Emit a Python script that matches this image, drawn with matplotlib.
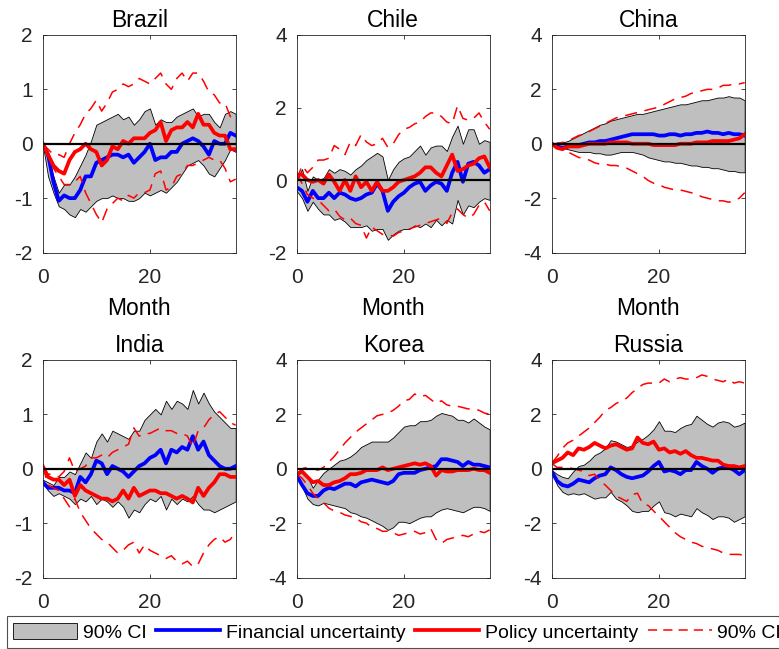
import numpy as np
import matplotlib
matplotlib.use("Agg")
import matplotlib.pyplot as plt
from matplotlib.patches import Patch
from matplotlib.lines import Line2D

plt.rcParams['font.family'] = ['Liberation Sans', 'DejaVu Sans']
plt.rcParams['axes.unicode_minus'] = False

months = np.arange(37)

# impulse responses: fin = financial uncertainty (median, 90% band), pol = policy uncertainty
brazil_fin = [0, -0.2, -0.7, -1.05, -0.95, -1.0, -1.0, -0.85, -0.6, -0.6, -0.35, -0.3, -0.25, -0.2, -0.2, -0.25,
              -0.2, -0.35, -0.25, -0.15, 0.0, -0.3, -0.25, -0.25, -0.15, -0.15, 0.0, 0.05, 0.1, 0.05, -0.05,
              -0.2, 0.05, 0.0, 0.0, 0.2, 0.15]
brazil_pol = [0, -0.2, -0.4, -0.5, -0.55, -0.3, -0.15, -0.1, 0.0, -0.1, -0.15, -0.4, -0.3, -0.05, -0.1, 0.05,
              0.0, 0.1, 0.1, 0.1, 0.2, 0.25, 0.4, 0.05, 0.25, 0.3, 0.3, 0.4, 0.3, 0.55, 0.35, 0.35, 0.2,
              0.15, 0.15, -0.1, -0.1]
brazil_fin_hi = [0, -0.3, -0.6, -0.9, -0.75, -0.75, -0.6, -0.4, -0.2, 0.05, 0.35, 0.4, 0.45, 0.5, 0.55, 0.45,
                 0.5, 0.35, 0.45, 0.6, 0.65, 0.35, 0.45, 0.4, 0.4, 0.5, 0.55, 0.6, 0.65, 0.5, 0.55, 0.55,
                 0.4, 0.3, 0.55, 0.6, 0.55]
brazil_fin_lo = [0, -0.6, -0.9, -1.15, -1.2, -1.3, -1.35, -1.2, -1.25, -1.15, -1.05, -1.0, -1.0, -0.95, -1.0,
                 -1.0, -1.05, -1.05, -1.0, -0.9, -0.95, -0.9, -0.85, -0.9, -0.8, -0.7, -0.55, -0.4, -0.35,
                 -0.3, -0.4, -0.55, -0.6, -0.45, -0.3, -0.1, -0.15]
brazil_pol_hi = [0, -0.1, -0.2, -0.2, -0.25, 0.0, 0.2, 0.35, 0.55, 0.65, 0.8, 0.6, 0.75, 0.95, 1.0, 1.1, 1.05,
                 1.1, 1.2, 1.15, 1.1, 1.2, 1.3, 1.1, 1.0, 1.2, 1.3, 1.15, 1.3, 1.3, 1.15, 0.95, 0.9, 0.75,
                 0.75, 0.5, 0.4]
brazil_pol_lo = [0, -0.2, -0.45, -0.6, -0.75, -0.75, -0.7, -0.6, -0.9, -1.1, -1.3, -1.45, -1.2, -1.1, -1.0,
                 -1.05, -0.95, -1.0, -0.9, -0.9, -0.85, -0.55, -0.5, -0.85, -0.8, -0.6, -0.55, -0.4, -0.4,
                 -0.35, -0.3, -0.25, -0.3, -0.3, -0.45, -0.7, -0.65]

chile_fin = [-0.2, -0.3, -0.6, -0.3, -0.5, -0.5, -0.35, -0.5, -0.35, -0.4, -0.5, -0.55, -0.5, -0.4, -0.35,
             -0.1, -0.3, -0.85, -0.6, -0.45, -0.35, -0.2, -0.1, -0.05, -0.3, -0.15, -0.05, -0.1, -0.3, 0.2,
             0.5, -0.05, 0.45, 0.5, 0.4, 0.2, 0.3]
chile_pol = [0.15, 0.15, 0.0, -0.05, 0.0, -0.1, 0.15, -0.05, -0.3, 0.0, -0.3, 0.1, -0.2, -0.05, -0.3, -0.05,
             -0.3, -0.3, -0.2, -0.05, 0.0, 0.05, 0.1, 0.2, 0.35, 0.35, 0.2, 0.1, 0.4, 0.7, 0.25, 0.3, 0.4,
             0.45, 0.6, 0.65, 0.35]
chile_fin_hi = [0, 0.3, -0.3, 0.1, 0.0, 0.05, 0.3, 0.2, 0.3, 0.25, 0.15, 0.3, 0.4, 0.55, 0.65, 0.75, 0.65, 0.0,
                0.3, 0.5, 0.6, 0.65, 0.8, 0.95, 0.7, 0.9, 0.95, 0.95, 0.8, 1.2, 1.5, 1.0, 1.4, 1.4, 1.0,
                1.1, 1.05]
chile_fin_lo = [-0.3, -0.5, -0.85, -0.6, -0.8, -0.95, -0.95, -1.1, -1.05, -1.15, -1.3, -1.3, -1.3, -1.25, -1.4,
                -1.35, -1.35, -1.65, -1.5, -1.4, -1.35, -1.35, -1.25, -1.3, -1.2, -1.3, -1.1, -1.25, -1.1,
                -1.2, -0.55, -0.95, -0.7, -0.75, -0.6, -0.5, -0.55]
chile_pol_hi = [0.0, 0.4, 0.2, 0.35, 0.55, 0.55, 0.6, 0.95, 0.85, 0.7, 1.05, 0.95, 1.25, 1.05, 0.95, 1.0, 1.15,
                0.9, 1.0, 1.25, 1.4, 1.45, 1.55, 1.6, 1.75, 1.85, 1.85, 1.75, 1.6, 1.55, 2.05, 1.7, 1.65,
                1.7, 1.85, 1.6, 1.4]
chile_pol_lo = [0.2, -0.1, -0.4, -0.5, -0.55, -0.7, -0.85, -0.8, -1.0, -1.1, -1.05, -1.2, -1.25, -1.6, -1.3,
                -1.4, -1.5, -1.5, -1.55, -1.45, -1.4, -1.35, -1.3, -1.25, -1.2, -1.15, -1.1, -1.05, -1.2,
                -0.9, -0.8, -0.95, -1.05, -0.95, -0.7, -0.6, -0.85]

china_fin = [0, -0.1, -0.15, -0.1, -0.05, -0.05, 0.0, 0.05, 0.05, 0.1, 0.1, 0.15, 0.2, 0.25, 0.3, 0.35, 0.35,
             0.35, 0.35, 0.35, 0.3, 0.3, 0.35, 0.35, 0.3, 0.35, 0.35, 0.4, 0.4, 0.45, 0.4, 0.4, 0.35, 0.4,
             0.35, 0.35, 0.3]
china_pol = [0, -0.15, -0.2, -0.1, -0.1, -0.1, -0.05, 0, 0, 0, 0, 0.05, 0.05, 0.05, 0.05, 0, 0, 0, 0, -0.05,
             -0.05, -0.05, -0.05, -0.05, 0, 0, 0, 0.05, 0.05, 0.05, 0.1, 0.1, 0.1, 0.1, 0.15, 0.2, 0.35]
china_fin_hi = [0, 0.05, 0.05, 0.1, 0.2, 0.3, 0.4, 0.5, 0.6, 0.7, 0.75, 0.85, 0.9, 0.95, 1.0, 1.05, 1.1, 1.1,
                1.15, 1.2, 1.25, 1.3, 1.35, 1.4, 1.45, 1.45, 1.5, 1.55, 1.6, 1.6, 1.65, 1.7, 1.7, 1.75, 1.7,
                1.7, 1.6]
china_fin_lo = [0, -0.1, -0.15, -0.2, -0.25, -0.3, -0.3, -0.3, -0.35, -0.35, -0.4, -0.4, -0.35, -0.3, -0.3,
                -0.3, -0.35, -0.4, -0.5, -0.55, -0.6, -0.65, -0.65, -0.7, -0.7, -0.75, -0.8, -0.8, -0.85,
                -0.85, -0.9, -0.9, -0.95, -1.0, -1.0, -1.05, -1.05]
china_pol_hi = [0, 0, 0.05, 0.1, 0.2, 0.3, 0.35, 0.45, 0.55, 0.65, 0.75, 0.85, 0.95, 1.0, 1.05, 1.1, 1.15, 1.2,
                1.25, 1.3, 1.35, 1.45, 1.55, 1.65, 1.7, 1.75, 1.85, 1.9, 1.95, 2.0, 2.0, 2.05, 2.15, 2.15,
                2.2, 2.2, 2.25]
china_pol_lo = [0, -0.1, -0.2, -0.3, -0.4, -0.5, -0.55, -0.6, -0.7, -0.75, -0.75, -0.8, -0.8, -0.85, -0.9,
                -1.0, -1.1, -1.2, -1.35, -1.45, -1.5, -1.6, -1.65, -1.7, -1.7, -1.75, -1.8, -1.85, -1.95,
                -2.0, -2.05, -2.1, -2.1, -2.15, -2.1, -2.0, -1.8]

india_fin = [-0.25, -0.35, -0.35, -0.35, -0.4, -0.4, -0.45, -0.15, -0.25, -0.1, 0.15, 0.1, -0.1, 0.05, 0.0,
             -0.05, -0.15, -0.05, 0.05, 0.1, 0.2, 0.25, 0.35, 0.1, 0.35, 0.3, 0.4, 0.35, 0.6, 0.35, 0.5, 0.25,
             0.15, 0.05, 0.0, 0.0, 0.05]
india_pol = [0.05, -0.15, -0.2, -0.2, -0.3, -0.2, -0.5, -0.3, -0.4, -0.45, -0.5, -0.55, -0.55, -0.6, -0.55,
             -0.4, -0.55, -0.35, -0.5, -0.45, -0.4, -0.4, -0.45, -0.45, -0.5, -0.55, -0.5, -0.55, -0.62,
             -0.35, -0.5, -0.35, -0.25, -0.1, -0.1, -0.15, -0.15]
india_fin_hi = [-0.2, -0.25, -0.3, -0.15, -0.15, -0.05, -0.1, 0.1, 0.3, 0.2, 0.5, 0.65, 0.5, 0.7, 0.65, 0.6,
                0.55, 0.7, 0.7, 0.9, 1.0, 1.1, 1.0, 1.25, 1.1, 1.25, 1.2, 1.1, 1.45, 1.2, 1.4, 1.2, 1.05,
                0.95, 0.85, 0.75, 0.75]
india_fin_lo = [-0.25, -0.4, -0.5, -0.45, -0.5, -0.55, -0.65, -0.55, -0.6, -0.5, -0.65, -0.55, -0.6, -0.7,
                -0.6, -0.7, -0.9, -0.75, -0.8, -0.65, -0.55, -0.6, -0.5, -0.75, -0.55, -0.65, -0.55, -0.6,
                -0.5, -0.65, -0.75, -0.75, -0.8, -0.75, -0.7, -0.65, -0.6]
india_pol_hi = [0.05, -0.1, -0.1, -0.15, -0.05, 0.2, -0.05, 0.0, 0.05, 0.2, 0.2, 0.25, 0.2, 0.3, 0.35, 0.4,
                0.45, 0.75, 0.6, 0.65, 0.65, 0.7, 0.75, 0.7, 0.7, 0.65, 0.65, 0.6, 0.4, 0.7, 0.75, 0.9, 1.0,
                1.05, 0.95, 0.85, 0.8]
india_pol_lo = [0.05, -0.3, -0.35, -0.4, -0.55, -0.7, -0.55, -0.8, -0.95, -1.1, -1.2, -1.3, -1.35, -1.45,
                -1.55, -1.5, -1.4, -1.35, -1.55, -1.4, -1.5, -1.55, -1.6, -1.65, -1.6, -1.7, -1.75, -1.7,
                -1.8, -1.75, -1.55, -1.4, -1.3, -1.25, -1.35, -1.3, -1.15]

korea_fin = [-0.25, -0.6, -0.9, -1.0, -1.0, -0.8, -0.7, -0.75, -0.65, -0.55, -0.55, -0.65, -0.5, -0.45, -0.4,
             -0.45, -0.5, -0.55, -0.45, -0.2, -0.15, -0.15, -0.15, -0.05, 0.0, 0.05, 0.1, 0.35, 0.35, 0.3,
             0.25, 0.1, 0.25, 0.15, 0.15, 0.1, 0.05]
korea_pol = [-0.2, -0.1, -0.3, -0.5, -0.45, -0.6, -0.6, -0.5, -0.45, -0.35, -0.2, -0.2, -0.15, -0.05, -0.05,
             -0.05, 0.05, -0.05, 0.0, 0.05, 0.1, 0.15, 0.2, 0.15, 0.2, 0.1, -0.25, -0.05, -0.1, -0.1, -0.05,
             -0.05, -0.05, 0.0, -0.05, -0.05, -0.15]
korea_fin_hi = [-0.25, -0.1, -0.3, -0.7, -0.4, -0.15, 0.0, 0.15, 0.3, 0.35, 0.45, 0.6, 0.8, 0.9, 1.0, 1.0, 1.0,
                1.0, 1.15, 1.35, 1.55, 1.6, 1.6, 1.75, 1.75, 1.8, 1.95, 2.05, 2.0, 1.95, 1.8, 1.8, 1.7, 1.85,
                1.7, 1.55, 1.45]
korea_fin_lo = [-0.25, -0.65, -1.1, -1.3, -1.35, -1.25, -1.3, -1.35, -1.4, -1.45, -1.6, -1.65, -1.75, -1.8,
                -1.9, -2.0, -2.1, -2.25, -2.15, -1.95, -1.95, -2.0, -1.9, -1.8, -1.75, -1.75, -1.6, -1.5,
                -1.45, -1.5, -1.55, -1.6, -1.5, -1.4, -1.4, -1.45, -1.55]
korea_pol_hi = [-0.2, 0.0, 0.05, 0.0, -0.05, 0.05, 0.25, 0.45, 0.7, 0.95, 1.15, 1.35, 1.5, 1.65, 1.8, 1.95,
                2.0, 2.05, 2.15, 2.3, 2.5, 2.55, 2.75, 2.65, 2.7, 2.55, 2.4, 2.5, 2.35, 2.3, 2.3, 2.25, 2.2,
                2.2, 2.15, 2.05, 2.0]
korea_pol_lo = [-0.2, -0.35, -0.6, -0.9, -1.1, -1.25, -1.45, -1.55, -1.6, -1.7, -1.75, -1.8, -1.95, -2.0,
                -2.15, -2.2, -2.3, -2.3, -2.35, -2.45, -2.4, -2.35, -2.3, -2.4, -2.35, -2.2, -2.6, -2.75,
                -2.6, -2.55, -2.5, -2.45, -2.5, -2.4, -2.3, -2.35, -2.25]

russia_fin = [-0.1, -0.45, -0.6, -0.65, -0.55, -0.4, -0.45, -0.5, -0.35, -0.25, -0.2, 0.05, -0.05, -0.2, -0.3,
              -0.35, -0.3, -0.25, -0.1, 0.1, 0.25, -0.1, -0.05, -0.1, -0.2, -0.05, -0.05, 0.25, 0.1, 0.0,
              -0.15, 0.0, 0.05, 0.05, -0.05, -0.2, -0.05]
russia_pol = [0.2, 0.3, 0.4, 0.6, 0.5, 0.75, 0.7, 0.8, 0.95, 0.85, 0.75, 0.85, 0.9, 0.8, 0.7, 0.75, 1.15, 0.95,
              0.9, 1.0, 0.7, 0.75, 0.6, 0.65, 0.55, 0.65, 0.5, 0.4, 0.4, 0.35, 0.3, 0.3, 0.15, 0.1, 0.1,
              0.05, 0.1]
russia_fin_hi = [-0.05, -0.2, -0.3, -0.35, -0.1, 0.1, 0.15, 0.3, 0.5, 0.6, 0.75, 1.05, 1.0, 0.9, 0.8, 0.85,
                 1.0, 1.1, 1.25, 1.45, 1.75, 1.4, 1.4, 1.35, 1.5, 1.6, 1.65, 1.95, 1.8, 1.65, 1.55, 1.7, 1.75,
                 1.7, 1.55, 1.6, 1.7]
russia_fin_lo = [-0.1, -0.6, -0.85, -0.95, -0.9, -0.95, -0.9, -1.0, -1.1, -1.05, -1.05, -0.85, -1.1, -1.2,
                 -1.35, -1.55, -1.6, -1.55, -1.55, -1.35, -1.2, -1.6, -1.65, -1.75, -1.65, -1.7, -1.75, -1.45,
                 -1.6, -1.7, -1.85, -1.75, -1.75, -1.8, -1.95, -1.85, -1.75]
russia_pol_hi = [0.2, 0.45, 0.75, 0.95, 1.05, 1.2, 1.35, 1.5, 1.7, 1.9, 2.15, 2.25, 2.4, 2.5, 2.6, 2.8, 2.95,
                 3.1, 3.15, 3.15, 3.15, 3.3, 3.2, 3.3, 3.35, 3.3, 3.3, 3.35, 3.45, 3.4, 3.3, 3.25, 3.2, 3.3,
                 3.15, 3.2, 3.15]
russia_pol_lo = [0.2, 0.05, 0.05, 0.05, 0.0, -0.05, -0.1, -0.25, -0.2, -0.45, -0.6, -0.8, -1.0, -1.1, -1.2,
                 -0.95, -0.9, -1.3, -1.35, -1.55, -1.75, -1.95, -2.15, -2.35, -2.5, -2.6, -2.7, -2.75, -2.85,
                 -2.9, -2.95, -3.0, -3.1, -3.15, -3.15, -3.15, -3.2]

countries = ['Brazil', 'Chile', 'China', 'India', 'Korea', 'Russia']
fin = [brazil_fin, chile_fin, china_fin, india_fin, korea_fin, russia_fin]
pol = [brazil_pol, chile_pol, china_pol, india_pol, korea_pol, russia_pol]
fin_hi = [brazil_fin_hi, chile_fin_hi, china_fin_hi, india_fin_hi, korea_fin_hi, russia_fin_hi]
fin_lo = [brazil_fin_lo, chile_fin_lo, china_fin_lo, india_fin_lo, korea_fin_lo, russia_fin_lo]
pol_hi = [brazil_pol_hi, chile_pol_hi, china_pol_hi, india_pol_hi, korea_pol_hi, russia_pol_hi]
pol_lo = [brazil_pol_lo, chile_pol_lo, china_pol_lo, india_pol_lo, korea_pol_lo, russia_pol_lo]
ylims = [(-2, 2), (-2, 4), (-4, 4), (-2, 2), (-4, 4), (-4, 4)]
yticks = [[-2, -1, 0, 1, 2], [-2, 0, 2, 4], [-4, -2, 0, 2, 4],
          [-2, -1, 0, 1, 2], [-4, -2, 0, 2, 4], [-4, -2, 0, 2, 4]]

W, H = 779, 649
fig = plt.figure(figsize=(W / 100, H / 100), dpi=100)

lefts = [42.7, 296.7, 551.7]
tops = [35, 360]
aw, ah = 193, 217.5
dark = '#262626'
dash = (8, 5)

for i, name in enumerate(countries):
    r, c = divmod(i, 3)
    ax = fig.add_axes([lefts[c] / W, 1 - (tops[r] + ah) / H, aw / W, ah / H])
    ax.fill_between(months, fin_lo[i], fin_hi[i], facecolor='#bfbfbf', edgecolor='black', linewidth=0.6)
    ax.plot(months, fin[i], color='blue', lw=2.7)
    ax.plot(months, pol[i], color='red', lw=2.7)
    ax.plot(months, pol_hi[i], color='red', lw=1.1, dashes=dash)
    ax.plot(months, pol_lo[i], color='red', lw=1.1, dashes=dash)
    ax.axhline(0, color='black', lw=1.6)
    ax.set_xlim(0, 36)
    ax.set_ylim(*ylims[i])
    ax.set_xticks([0, 20])
    ax.set_yticks(yticks[i])
    ax.set_title(name, fontsize=16.5, pad=6, color='black')
    if r == 0:
        ax.set_xlabel('Month', fontsize=16.5, labelpad=7)
    ax.tick_params(direction='in', top=True, right=True, labelsize=15, colors=dark,
                   length=3, width=0.6)
    ax.tick_params(axis='x', pad=11)
    ax.tick_params(axis='y', pad=7)
    for sp in ax.spines.values():
        sp.set_color(dark)
        sp.set_linewidth(0.6)

handles = [Patch(facecolor='#bfbfbf', edgecolor='black', linewidth=0.6),
           Line2D([], [], color='blue', lw=2.7),
           Line2D([], [], color='red', lw=2.7),
           Line2D([], [], color='red', lw=1.1, dashes=(6, 4))]
labels = ['90% CI', 'Financial uncertainty', 'Policy uncertainty', '90% CI']
leg = fig.legend(handles, labels, ncol=4, loc='lower left', bbox_to_anchor=(7 / W, 1 / H),
                 borderaxespad=0, frameon=True, fancybox=False, edgecolor=dark,
                 prop={'size': 14}, handlelength=3.3, handleheight=0.95,
                 handletextpad=0.28, columnspacing=0.5, borderpad=0.32)
leg.get_frame().set_linewidth(0.8)

fig.savefig('out.png', dpi=100)
